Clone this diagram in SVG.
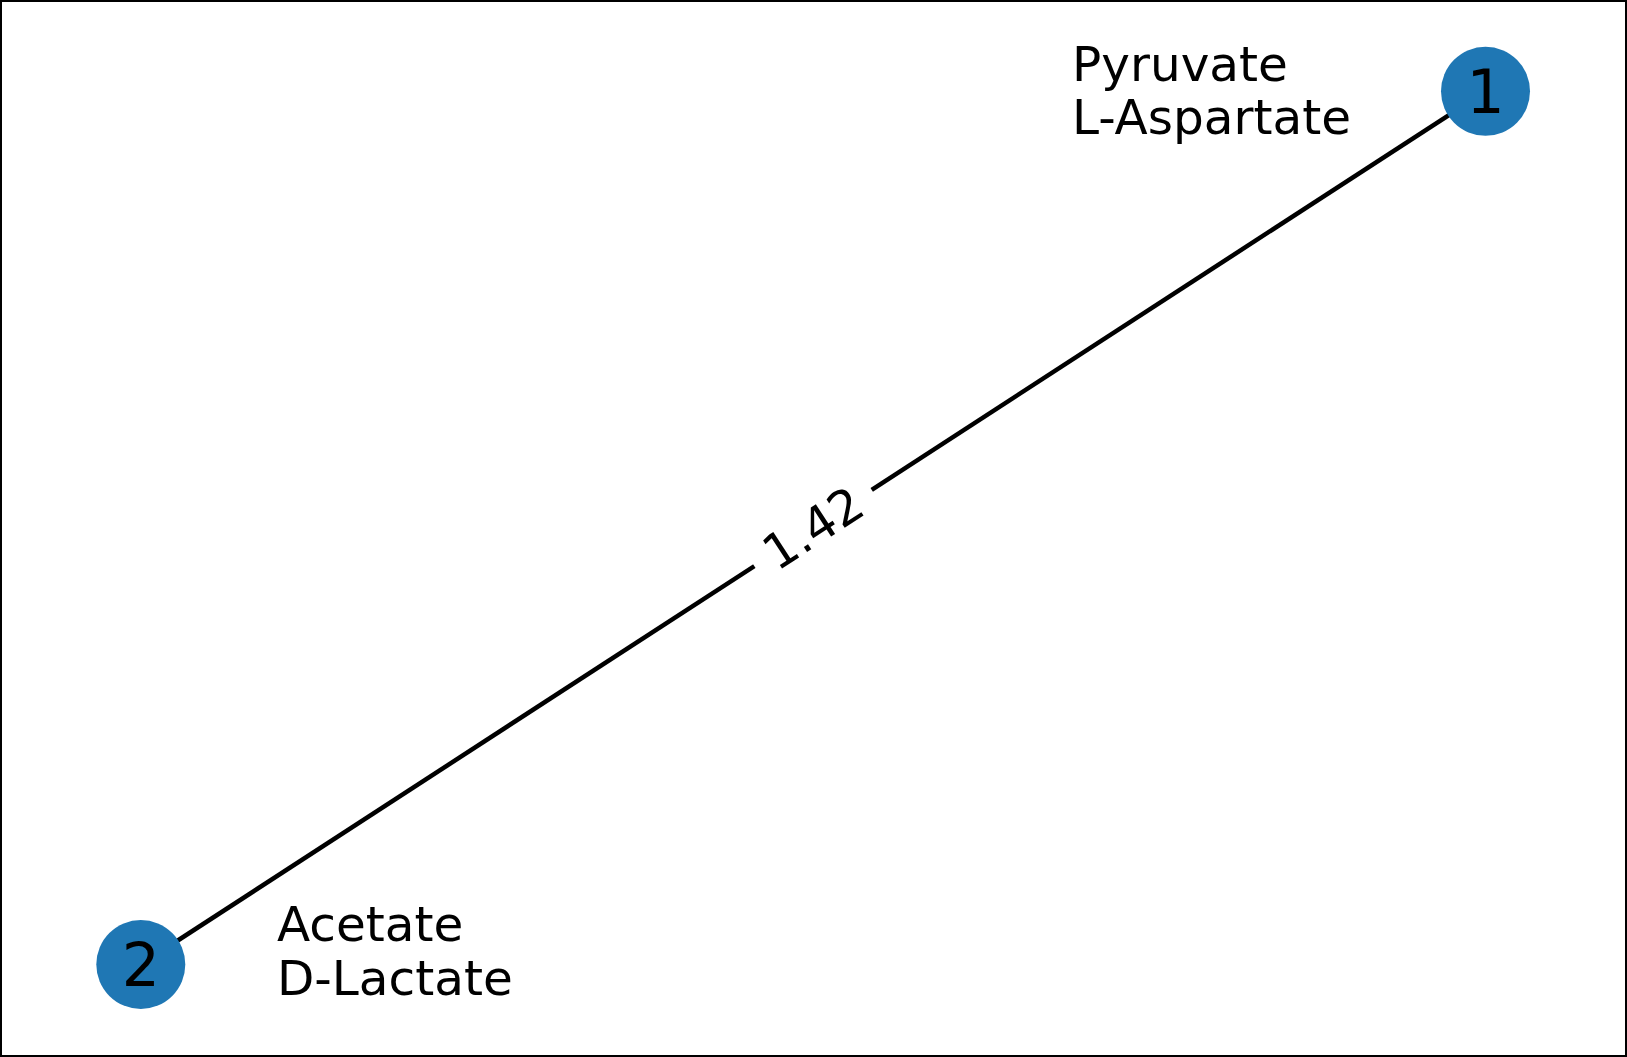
<svg xmlns="http://www.w3.org/2000/svg" width="1627" height="1057" viewBox="0 0 1627 1057">
<style>
.node{fill:#1f77b4}
.nl{font-family:"DejaVu Sans",sans-serif;font-size:60px;fill:#000;text-anchor:middle}
.lab{font-family:"DejaVu Sans",sans-serif;font-size:48.5px;fill:#000}
.edge{stroke:#000;stroke-width:4.5;fill:none}
</style>
<rect x="1" y="1" width="1625" height="1055" fill="#fff" stroke="#000" stroke-width="2"/>
<g id="edges">
<line class="edge" x1="140.8" y1="964.5" x2="1485.5" y2="91.3"/>
<g transform="translate(813,528) rotate(-33)">
<rect x="-70" y="-30" width="140" height="60" fill="#fff"/>
<text class="lab" x="0" y="17" text-anchor="middle">1.42</text>
</g>
</g>
<g id="node1">
<circle class="node" cx="1485.5" cy="91.3" r="44.5"/>
<text class="nl" x="1485.5" y="113">1</text>
<text class="lab" x="1072" y="81">Pyruvate</text>
<text class="lab" x="1072" y="134">L-Aspartate</text>
</g>
<g id="node2">
<circle class="node" cx="140.8" cy="964.5" r="44.5"/>
<text class="nl" x="140.8" y="986">2</text>
<text class="lab" x="277" y="941">Acetate</text>
<text class="lab" x="277" y="995">D-Lactate</text>
</g>
</svg>
